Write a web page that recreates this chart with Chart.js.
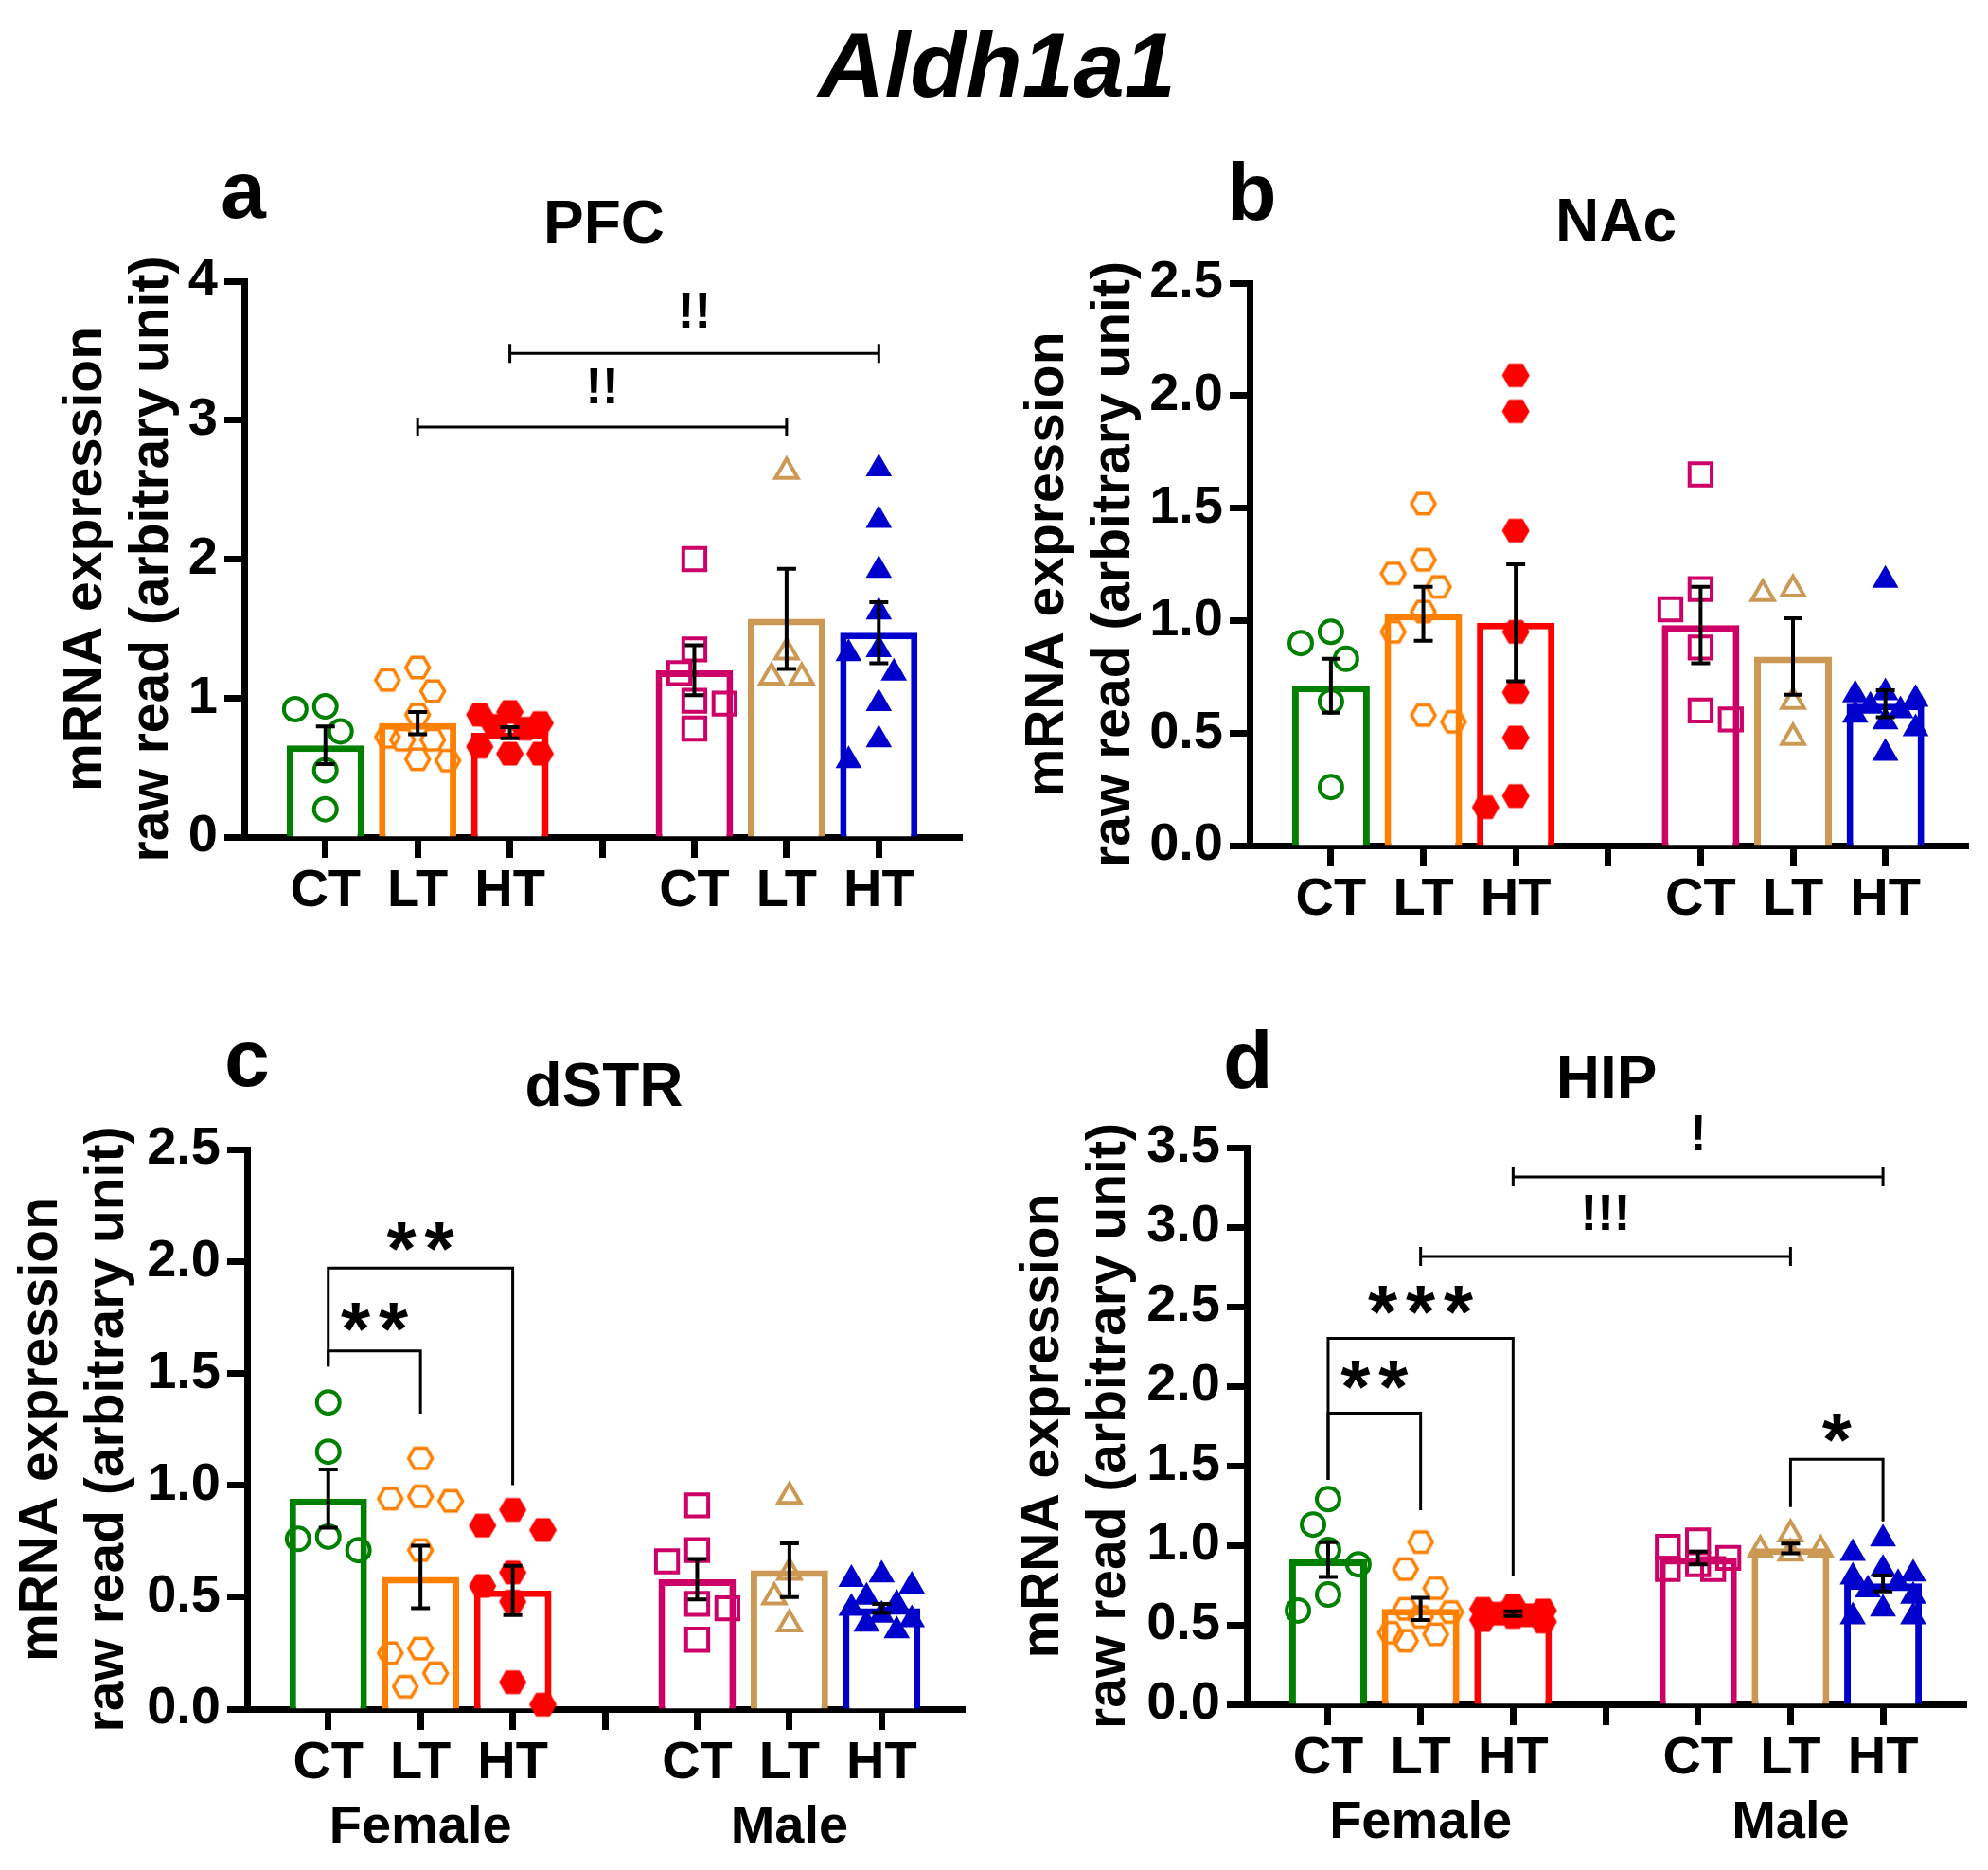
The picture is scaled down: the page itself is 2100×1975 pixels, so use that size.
<!DOCTYPE html>
<html><head><meta charset="utf-8">
<script src="https://cdn.jsdelivr.net/npm/chart.js@4.4.0/dist/chart.umd.min.js"></script>
<style>
html,body{margin:0;padding:0;background:#fff;}
body{width:2100px;height:1975px;position:relative;overflow:hidden;font-family:'Liberation Sans',Arial,sans-serif;}
.t{position:absolute;color:#000;font-weight:bold;white-space:nowrap;line-height:1;}
canvas{position:absolute;}
</style></head>
<body>
<div class="t" style="left:1053px;top:20px;font-size:97px;font-style:italic;transform:translateX(-50%);">Aldh1a1</div>
<div class="t" style="left:233px;top:157px;font-size:86px;">a</div>
<div class="t" style="left:1296px;top:159px;font-size:86px;">b</div>
<div class="t" style="left:237px;top:1074px;font-size:86px;">c</div>
<div class="t" style="left:1292px;top:1076px;font-size:86px;">d</div>
<div class="t" style="left:638px;top:203px;font-size:64px;transform:translateX(-50%);">PFC</div>
<div class="t" style="left:1707px;top:201px;font-size:64px;transform:translateX(-50%);">NAc</div>
<div class="t" style="left:638px;top:1114px;font-size:64px;transform:translateX(-50%);">dSTR</div>
<div class="t" style="left:1697px;top:1106px;font-size:64px;transform:translateX(-50%);">HIP</div>
<canvas id="cA" width="1050" height="850" style="left:0;top:150px;width:1050px;height:850px"></canvas>
<canvas id="cB" width="1050" height="850" style="left:1050px;top:150px;width:1050px;height:850px"></canvas>
<canvas id="cC" width="1050" height="925" style="left:0;top:1050px;width:1050px;height:925px"></canvas>
<canvas id="cD" width="1050" height="925" style="left:1050px;top:1050px;width:1050px;height:925px"></canvas>
<script>
// ---------- categories / tick labels ----------
const groupX = [0, 1, 2, 4, 5, 6];
const xTickValues = [0, 1, 2, 3, 4, 5, 6];
const xTickLabels = ['CT', 'LT', 'HT', '', 'CT', 'LT', 'HT'];
const sexLabels = ['Female', 'Male'];
const yTitle = ['mRNA expression', 'raw read (arbitrary unit)'];

// ---------- PFC ----------
const pfcMeans = [0.66, 0.82, 0.75, 1.20, 1.57, 1.47];
const pfcSem = [0.135, 0.08, 0.04, 0.18, 0.36, 0.22];
const pfcFemCT = [0.94, 0.92, 0.76, 0.48, 0.20];
const pfcFemLT = [1.22, 1.13, 1.05, 0.88, 0.72, 0.70, 0.70, 0.55, 0.56];
const pfcFemHT = [0.90, 0.88, 0.82, 0.80, 0.78, 0.65, 0.60, 0.60];
const pfcMalCT = [2.00, 1.35, 1.18, 0.98, 0.96, 0.78];
const pfcMalLT = [2.63, 1.33, 1.15, 1.15];
const pfcMalHT = [2.65, 2.28, 1.92, 1.62, 1.35, 1.32, 1.18, 0.96, 0.70, 0.55];
const pfcYTicks = [0, 1, 2, 3, 4];
const pfcBrackets = [
  {from: 1, to: 5, y: 2.95, label: '!!', labelY: 3.25},
  {from: 2, to: 6, y: 3.48, label: '!!', labelY: 3.79}
];

// ---------- NAc ----------
const nacMeans = [0.71, 1.03, 0.99, 0.98, 0.84, 0.63];
const nacSem = [0.12, 0.12, 0.26, 0.17, 0.17, 0.06];
const nacFemCT = [0.95, 0.83, 0.90, 0.64, 0.26];
const nacFemLT = [1.52, 1.27, 1.15, 1.21, 1.04, 0.95, 0.55, 0.58];
const nacFemHT = [2.09, 1.93, 1.40, 0.95, 0.68, 0.48, 0.17, 0.22];
const nacMalCT = [1.65, 1.14, 1.05, 0.88, 0.56, 0.60];
const nacMalLT = [1.12, 1.14, 0.64, 0.48];
const nacMalHT = [1.18, 0.68, 0.67, 0.65, 0.62, 0.60, 0.58, 0.55, 0.52, 0.41];
const nacYTicks = [0, 0.5, 1.0, 1.5, 2.0, 2.5];
const nacBrackets = [];

// ---------- dSTR ----------
const dstrMeans = [0.94, 0.59, 0.53, 0.58, 0.62, 0.45];
const dstrSem = [0.13, 0.14, 0.11, 0.09, 0.12, 0.02];
const dstrFemCT = [1.37, 1.15, 0.77, 0.76, 0.71];
const dstrFemLT = [1.12, 0.94, 0.93, 0.95, 0.71, 0.25, 0.27, 0.16, 0.10];
const dstrFemHT = [0.89, 0.82, 0.80, 0.61, 0.55, 0.48, 0.12, 0.02];
const dstrMalCT = [0.91, 0.71, 0.66, 0.47, 0.45, 0.31];
const dstrMalLT = [0.95, 0.61, 0.50, 0.38];
const dstrMalHT = [0.60, 0.58, 0.55, 0.50, 0.47, 0.45, 0.42, 0.40, 0.38, 0.35];
const dstrYTicks = [0, 0.5, 1.0, 1.5, 2.0, 2.5];
const dstrBrackets = [
  {from: 0, to: 1, y: 1.60, dropFrom: 1.53, dropTo: 1.32, label: '**', labelY: 1.75},
  {from: 0, to: 2, y: 1.97, dropFrom: 1.53, dropTo: 1.00, label: '**', labelY: 2.11}
];

// ---------- HIP ----------
const hipMeans = [0.91, 0.60, 0.57, 0.92, 0.98, 0.76];
const hipSem = [0.11, 0.07, 0.015, 0.04, 0.03, 0.05];
const hipFemCT = [1.29, 1.13, 0.97, 0.88, 0.69, 0.59];
const hipFemLT = [1.02, 0.85, 0.73, 0.60, 0.58, 0.55, 0.45, 0.44, 0.40];
const hipFemHT = [0.62, 0.60, 0.59, 0.57, 0.56, 0.55, 0.53, 0.52];
const hipMalCT = [1.03, 0.99, 0.92, 0.88, 0.85, 0.85];
const hipMalLT = [1.07, 0.97, 0.97, 0.95];
const hipMalHT = [1.04, 0.95, 0.85, 0.82, 0.80, 0.76, 0.72, 0.68, 0.60, 0.55, 0.55];
const hipYTicks = [0, 0.5, 1.0, 1.5, 2.0, 2.5, 3.0, 3.5];
const hipBrackets = [
  {from: 0, to: 1, y: 1.83, dropFrom: 1.41, dropTo: 1.22, label: '**', labelY: 2.07},
  {from: 0, to: 2, y: 2.30, dropFrom: 1.41, dropTo: 0.81, label: '***', labelY: 2.54},
  {from: 1, to: 5, y: 2.815, label: '!!!', labelY: 3.09},
  {from: 2, to: 6, y: 3.315, label: '!', labelY: 3.595},
  {from: 5, to: 6, y: 1.54, dropFrom: 1.24, dropTo: 1.15, label: '*', labelY: 1.74}
];

// ---------- styles ----------
const FONT = "'Liberation Sans', Arial, sans-serif";
const colors = ['#008000', '#ff8000', '#ff0000', '#cc0066', '#cc9955', '#0000cc'];

function hexImg(color, filled) {
  const s = 34, c = document.createElement('canvas');
  c.width = s; c.height = s;
  const g = c.getContext('2d');
  const r = 12.5;
  g.beginPath();
  for (let k = 0; k < 6; k++) {
    const a = Math.PI / 3 * k;
    g.lineTo(s / 2 + r * Math.cos(a), s / 2 + r * Math.sin(a));
  }
  g.closePath();
  if (filled) { g.fillStyle = color; g.fill(); }
  g.lineWidth = 3.5; g.strokeStyle = color; g.lineJoin = 'miter'; g.stroke();
  return c;
}
const markerStyles = [
  {pointStyle: 'circle', pointRadius: 12, pointBorderWidth: 4, pointBackgroundColor: 'rgba(0,0,0,0)'},
  {pointStyle: hexImg(colors[1], false), pointRadius: 14, pointBorderWidth: 0},
  {pointStyle: hexImg(colors[2], true), pointRadius: 14, pointBorderWidth: 0},
  {pointStyle: 'rect', pointRadius: 16.5, pointBorderWidth: 4, pointBackgroundColor: 'rgba(0,0,0,0)'},
  {pointStyle: 'triangle', pointRadius: 13.5, pointBorderWidth: 4, pointBackgroundColor: 'rgba(0,0,0,0)'},
  {pointStyle: 'triangle', pointRadius: 16, pointBorderWidth: 0, pointBackgroundColor: colors[5]}
];

// ---------- plugins ----------
const errorBarPlugin = {
  id: 'errorBars',
  afterDatasetsDraw(chart) {
    const cfg = chart.options.plugins.errorBars;
    const {ctx} = chart; const xs = chart.scales.x, ys = chart.scales.y;
    ctx.save();
    ctx.strokeStyle = '#000'; ctx.lineWidth = 4; ctx.lineCap = 'butt';
    cfg.means.forEach((m, i) => {
      const x = xs.getPixelForValue(groupX[i]);
      const yT = ys.getPixelForValue(m + cfg.sem[i]);
      const yB = ys.getPixelForValue(m - cfg.sem[i]);
      ctx.beginPath();
      ctx.moveTo(x, yT); ctx.lineTo(x, yB);
      ctx.moveTo(x - 10, yT); ctx.lineTo(x + 10, yT);
      ctx.moveTo(x - 10, yB); ctx.lineTo(x + 10, yB);
      ctx.stroke();
    });
    ctx.restore();
  }
};

const bracketPlugin = {
  id: 'brackets',
  afterDraw(chart) {
    const list = chart.options.plugins.brackets.list;
    const {ctx} = chart; const xs = chart.scales.x, ys = chart.scales.y;
    ctx.save();
    ctx.strokeStyle = '#000'; ctx.fillStyle = '#000'; ctx.lineWidth = 3;
    list.forEach(b => {
      const x1 = xs.getPixelForValue(b.from), x2 = xs.getPixelForValue(b.to);
      const y = ys.getPixelForValue(b.y);
      ctx.beginPath();
      if (b.dropFrom !== undefined) {
        ctx.moveTo(x1, ys.getPixelForValue(b.dropFrom));
        ctx.lineTo(x1, y); ctx.lineTo(x2, y);
        ctx.lineTo(x2, ys.getPixelForValue(b.dropTo));
      } else {
        ctx.moveTo(x1, y); ctx.lineTo(x2, y);
        ctx.moveTo(x1, y - 10); ctx.lineTo(x1, y + 10);
        ctx.moveTo(x2, y - 10); ctx.lineTo(x2, y + 10);
      }
      ctx.stroke();
      const cx = (x1 + x2) / 2, cy = ys.getPixelForValue(b.labelY);
      const isStar = b.label.indexOf('*') >= 0;
      ctx.font = (isStar ? 'bold 80px ' : 'bold 53px ') + FONT;
      ctx.textAlign = 'center'; ctx.textBaseline = 'alphabetic';
      const m = ctx.measureText(b.label);
      const base = cy + (m.actualBoundingBoxAscent - m.actualBoundingBoxDescent) / 2;
      if (isStar) {
        const sp = 40, n = b.label.length;
        for (let k = 0; k < n; k++) ctx.fillText('*', cx + (k - (n - 1) / 2) * sp, base);
      } else {
        ctx.fillText(b.label, cx, base);
      }
    });
    ctx.restore();
  }
};

// ---------- beeswarm spreading of points (pixel space), limited to the bar width ----------
function swarmOffsets(vals, yPix, pxPerX) {
  const D = 29, h = D * 0.55, maxOff = 0.36 * pxPerX;
  const order = vals.map((v, i) => i).sort((a, b) => vals[b] - vals[a]);
  const placed = []; const off = vals.map(() => 0);
  let side = -1;
  const cands0 = [0];
  for (let k = 1; k * h <= maxOff + 0.5; k++) cands0.push(k * h);
  for (const i of order) {
    const py = yPix(vals[i]);
    const cands = [];
    cands0.forEach(c => { if (c === 0) cands.push(0); else cands.push(side * c, -side * c); });
    let best = null, bestD = -1;
    for (const c of cands) {
      const dmin = placed.reduce((m, p) => Math.min(m, Math.hypot(p.x - c, p.y - py)), Infinity);
      if (dmin >= D) { best = c; bestD = dmin; break; }
      if (dmin > bestD + 0.01) { bestD = dmin; best = c; }
    }
    placed.push({x: best, y: py});
    off[i] = best / pxPerX;
    if (best !== 0) side = best > 0 ? -1 : 1;
  }
  return off;
}

// ---------- panel builder ----------
function makePanel(id, p) {
  const pointSets = p.points;
  const datasets = [{
    type: 'bar', order: 2,
    data: groupX.map((x, i) => ({x: x, y: p.means[i]})),
    backgroundColor: '#ffffff', borderColor: colors, borderWidth: 7,
    borderSkipped: 'start', barPercentage: 1, categoryPercentage: 0.84
  }];
  pointSets.forEach((vals, g) => {
    datasets.push(Object.assign({
      type: 'scatter', order: 1, clip: false,
      data: vals.map(v => ({x: groupX[g], y: v})),
      pointBorderColor: colors[g], pointBackgroundColor: colors[g], showLine: false
    }, markerStyles[g]));
  });
  const tickFont = {family: FONT, size: 56, weight: 'bold', lineHeight: 68 / 56};
  const chart = new Chart(document.getElementById(id), {
    data: {datasets},
    plugins: [errorBarPlugin, bracketPlugin],
    options: {
      responsive: false, animation: false, devicePixelRatio: 1,
      layout: {padding: {left: 0, top: p.top, right: p.right, bottom: 0}},
      events: [],
      plugins: {
        legend: {display: false}, tooltip: {enabled: false},
        errorBars: {means: p.means, sem: p.sem},
        brackets: {list: p.brackets}
      },
      scales: {
        x: {
          type: 'linear', min: -0.88, max: 6.9, z: 1, offset: false,
          afterBuildTicks: s => { s.ticks = xTickValues.map(v => ({value: v})); },
          afterFit: s => { s.height = p.xh; },
          ticks: {
            autoSkip: false, maxRotation: 0, minRotation: 0, padding: 2, color: '#000', font: tickFont,
            callback: (v) => {
              const lab = xTickLabels[v];
              if (p.sex && v === 1) return [lab, sexLabels[0]];
              if (p.sex && v === 5) return [lab, sexLabels[1]];
              return lab;
            }
          },
          grid: {display: true, offset: false, drawOnChartArea: false, drawTicks: true, tickLength: 22, tickWidth: 7, tickColor: '#000'},
          border: {display: true, width: 7, color: '#000'}
        },
        y: {
          type: 'linear', min: 0, max: p.yTicks[p.yTicks.length - 1], z: 1,
          afterBuildTicks: s => { s.ticks = p.yTicks.map(v => ({value: v})); },
          afterFit: s => { s.width = p.yw; },
          ticks: {
            padding: 7, color: '#000', font: tickFont,
            callback: v => p.decimals ? Number(v).toFixed(1) : String(v)
          },
          grid: {display: true, drawOnChartArea: false, drawTicks: true, tickLength: 21, tickWidth: 7, tickColor: '#000'},
          border: {display: true, width: 7, color: '#000'},
          title: {
            display: true, text: yTitle, color: '#000',
            font: {family: FONT, size: 57, weight: 'bold', lineHeight: 70 / 57},
            padding: {top: p.titlePad, bottom: 0}
          }
        }
      }
    }
  });
  // spread points horizontally (beeswarm) using the chart's own scales
  const xs = chart.scales.x, ys = chart.scales.y;
  const pxPerX = xs.getPixelForValue(1) - xs.getPixelForValue(0);
  pointSets.forEach((vals, g) => {
    const off = swarmOffsets(vals, v => ys.getPixelForValue(v), pxPerX);
    chart.data.datasets[g + 1].data = vals.map((v, i) => ({x: groupX[g] + off[i], y: v}));
  });
  chart.update('none');
  return chart;
}

makePanel('cA', {
  means: pfcMeans, sem: pfcSem, yTicks: pfcYTicks, decimals: false, brackets: pfcBrackets, sex: false,
  points: [pfcFemCT, pfcFemLT, pfcFemHT, pfcMalCT, pfcMalLT, pfcMalHT],
  top: 147, right: 34, xh: 116, yw: 258, titlePad: 56
});
makePanel('cB', {
  means: nacMeans, sem: nacSem, yTicks: nacYTicks, decimals: true, brackets: nacBrackets, sex: false,
  points: [nacFemCT, nacFemLT, nacFemHT, nacMalCT, nacMalLT, nacMalHT],
  top: 149, right: 20, xh: 107, yw: 270, titlePad: 22
});
makePanel('cC', {
  means: dstrMeans, sem: dstrSem, yTicks: dstrYTicks, decimals: true, brackets: dstrBrackets, sex: true,
  points: [dstrFemCT, dstrFemLT, dstrFemHT, dstrMalCT, dstrMalLT, dstrMalHT],
  top: 164, right: 31, xh: 170, yw: 261, titlePad: 9
});
makePanel('cD', {
  means: hipMeans, sem: hipSem, yTicks: hipYTicks, decimals: true, brackets: hipBrackets, sex: true,
  points: [hipFemCT, hipFemLT, hipFemHT, hipMalCT, hipMalLT, hipMalHT],
  top: 162, right: 23, xh: 175, yw: 267, titlePad: 17
});
</script>
</body></html>
